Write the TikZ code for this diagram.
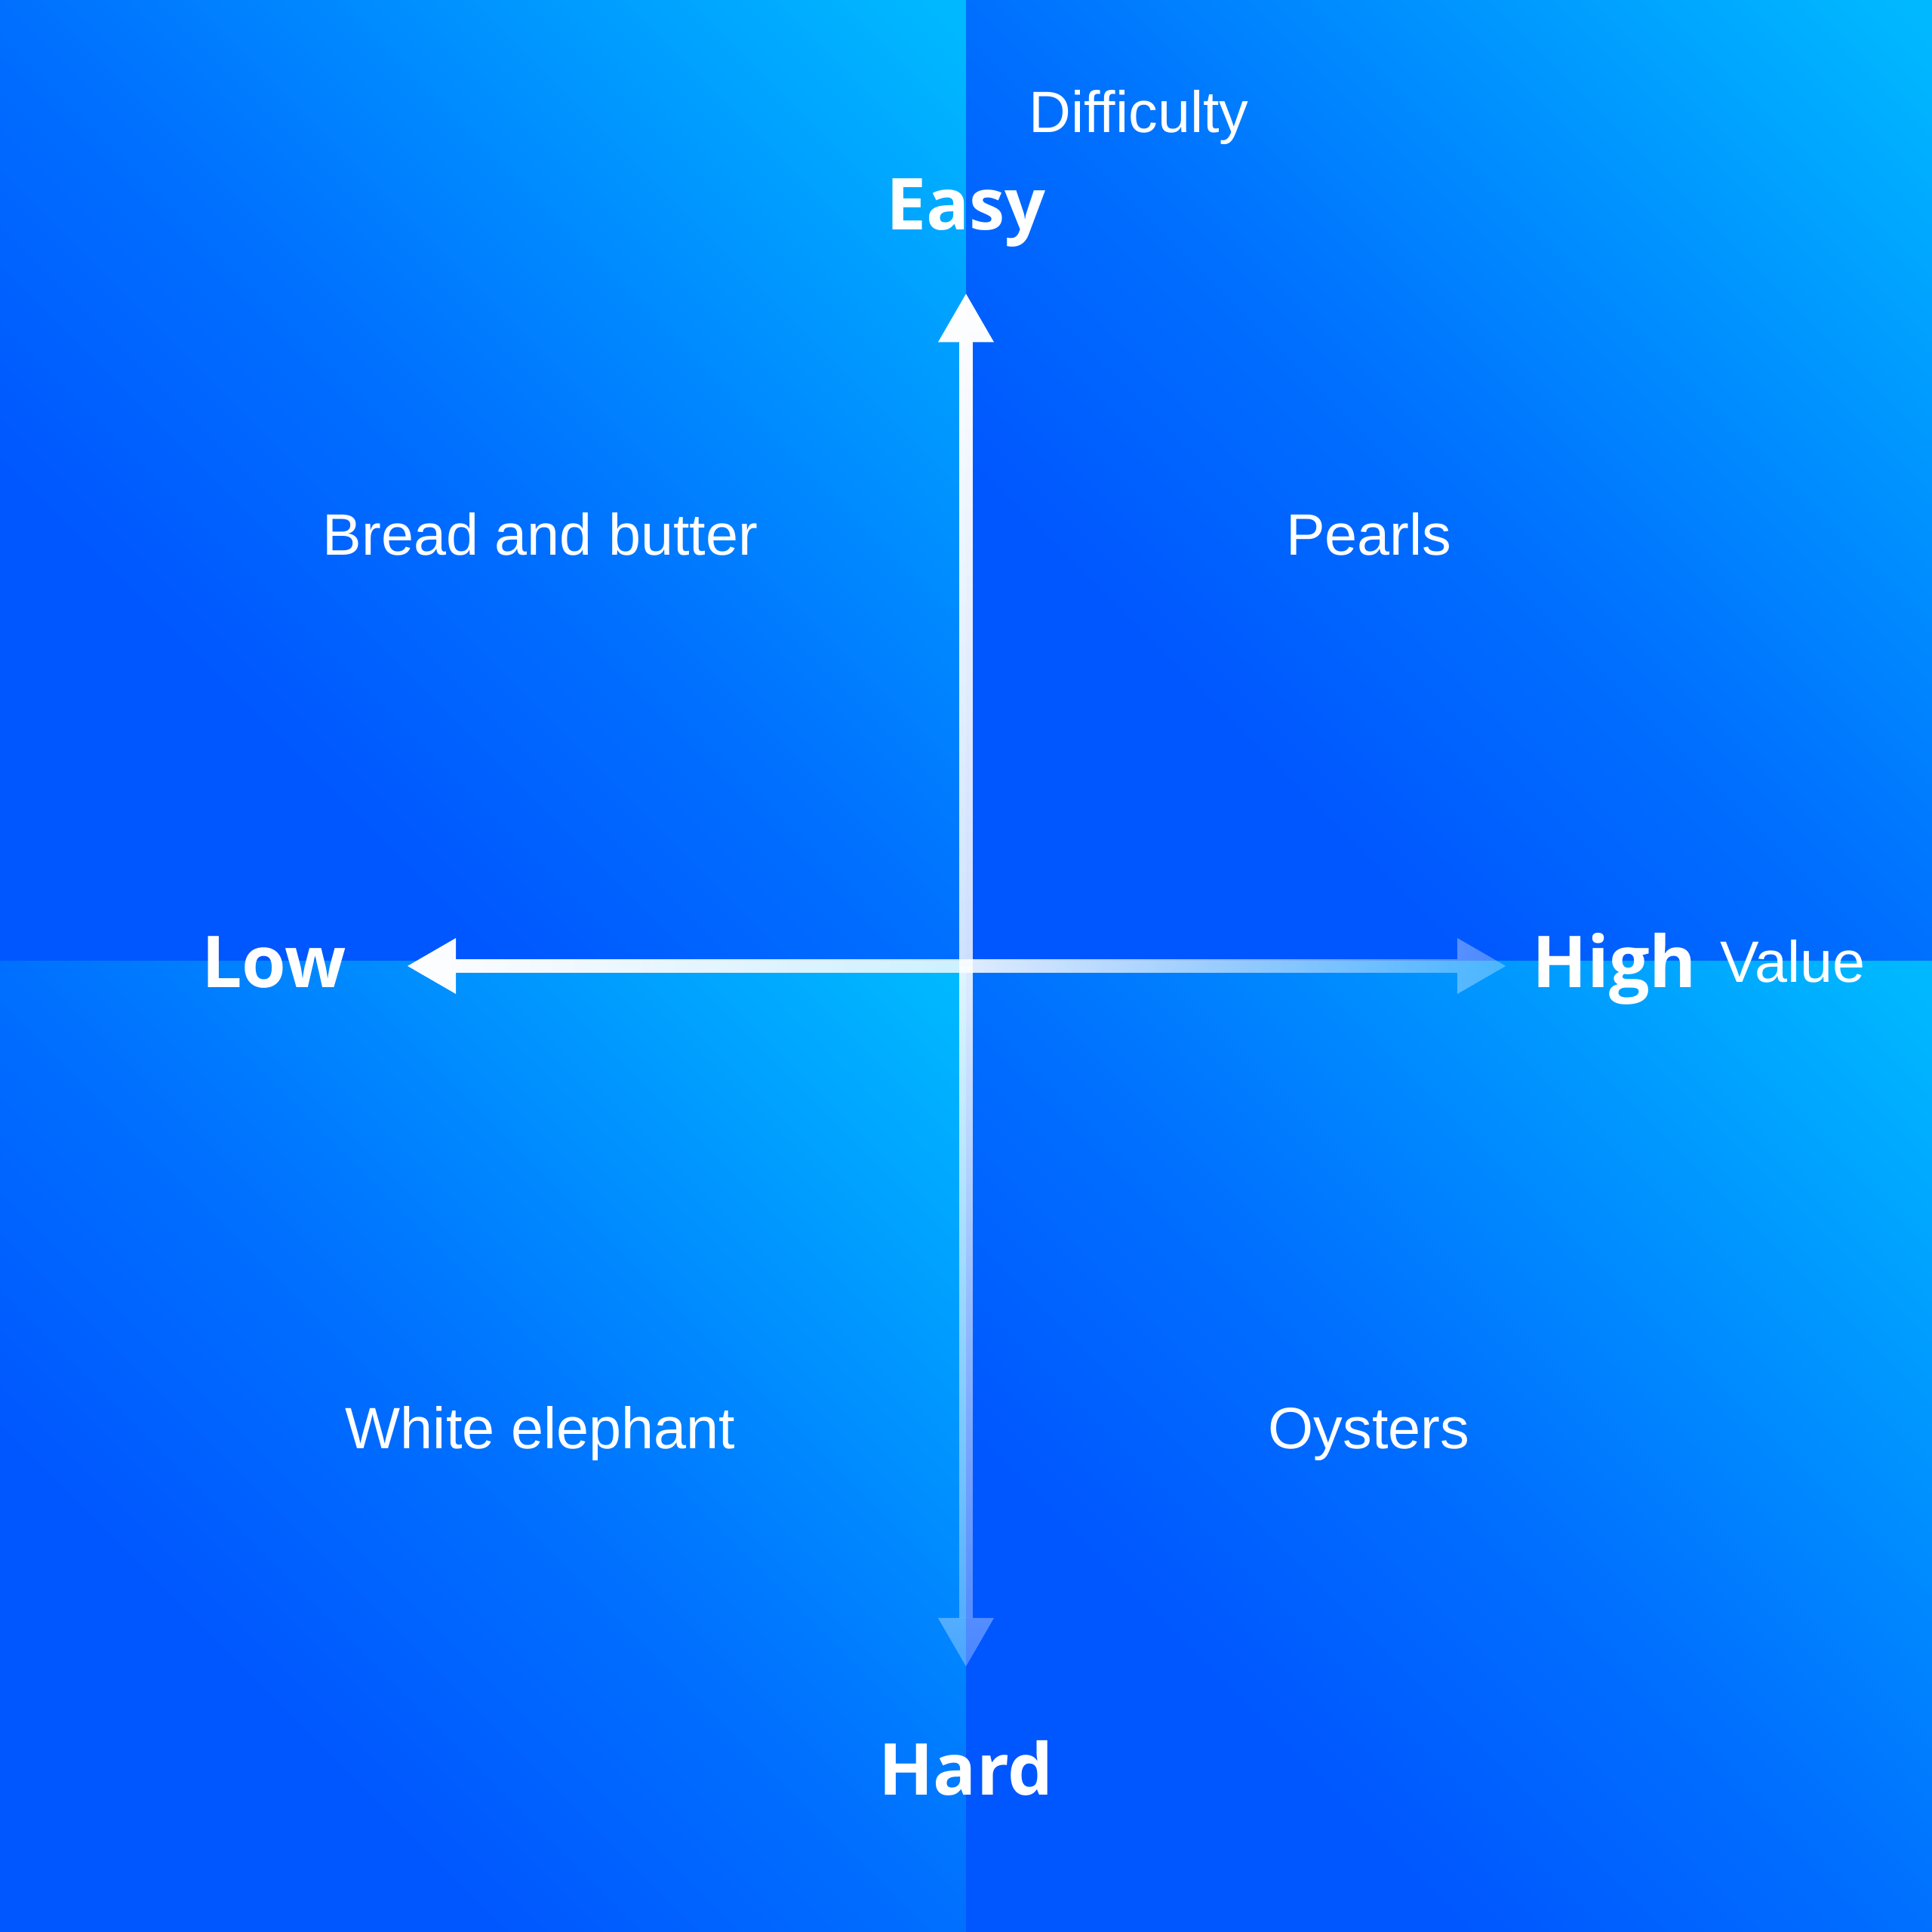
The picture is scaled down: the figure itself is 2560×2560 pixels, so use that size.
\documentclass[tikz,border=0pt]{standalone}
\usepackage{fontspec}
\setmainfont{Liberation Sans}
\newfontfamily\axisfont{Open Sans}
\usepackage{tikz}
\usetikzlibrary{arrows.meta,fadings}
\definecolor{qdark}{RGB}{0,86,255}
\definecolor{qlight}{RGB}{0,184,255}
\colorlet{qmid}{qdark!74!qlight}
\pgfdeclareverticalshading{quadfill}{100bp}{color(0bp)=(qdark); color(32bp)=(qdark); color(50bp)=(qmid); color(84bp)=(qlight); color(100bp)=(qlight)}
\tikzfading[name=fadeup, top color=transparent!0, bottom color=transparent!20]
\tikzfading[name=fadeleft, left color=transparent!0, right color=transparent!20]
\tikzfading[name=fadedown, top color=transparent!12, bottom color=transparent!72]
\tikzfading[name=faderight, left color=transparent!12, right color=transparent!72]

\begin{document}
\begin{tikzpicture}[x=0.01cm,y=0.01cm,
    quad/.style={shading=quadfill,shading angle=-45},
    axisline/.style={white,line width=0.18cm,-{Triangle[length=0.64cm,width=0.74cm,line width=0pt]}},
    big/.style={font=\axisfont\bfseries\fontsize{27}{32}\selectfont,text=white,inner sep=0pt,anchor=base},
    small/.style={font=\fontsize{22}{26}\selectfont,text=white,inner sep=0pt,anchor=base}]
      \useasboundingbox (-1280,-1280) rectangle (1280,1280);
      \shade[quad] (-1280,7) rectangle (0,1280);
      \shade[quad] (0,7) rectangle (1280,1280);
      \shade[quad] (-1280,-1280) rectangle (0,7);
      \shade[quad] (0,-1280) rectangle (1280,7);
      \coordinate (o) at (0,0);
      \coordinate (easytip) at (0,891);
      \coordinate (hardtip) at (0,-928);
      \coordinate (lowtip) at (-740,0);
      \coordinate (hightip) at (715,0);
      \draw[axisline,path fading=fadeup] ([xshift=-0.2cm]o) ([xshift=0.2cm]easytip) (o) -- (easytip);
      \draw[axisline,path fading=fadeleft] ([yshift=-0.2cm]lowtip) ([yshift=0.2cm]o) (o) -- (lowtip);
      \draw[axisline,path fading=fadedown] ([xshift=-0.2cm]hardtip) ([xshift=0.2cm]o) (o) -- (hardtip);
      \draw[axisline,path fading=faderight] ([yshift=-0.2cm]o) ([yshift=0.2cm]hightip) (o) -- (hightip);
      \node[big] (easy) at (0,975) {Easy};
      \node[small] (difficulty) at (229,1104) {Difficulty};
      \node[big] (low) at (-917,-28) {Low};
      \node[big,anchor=base west] (high) at (750,-28) {High};
      \node[small,anchor=base west] (value) at (999,-21) {Value};
      \node[big] (hard) at (0,-1098) {Hard};
      \node[small] (bread) at (-564,544) {Bread and butter};
      \node[small] (pearls) at (534,544) {Pearls};
      \node[small] (elephant) at (-564,-639) {White elephant};
      \node[small] (oysters) at (534,-639) {Oysters};
\end{tikzpicture}
\end{document}
